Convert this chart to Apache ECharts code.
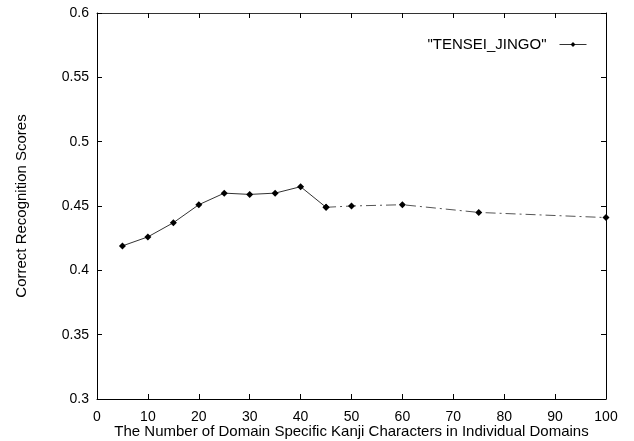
<!DOCTYPE html>
<html>
<head>
<meta charset="utf-8">
<script src="https://cdn.jsdelivr.net/npm/echarts@6/dist/echarts.min.js"></script>
<style>
  html, body { margin: 0; padding: 0; background: #fff; }
  #chart { width: 634px; height: 441px; }
</style>
</head>
<body>
<div id="chart"></div>
<script>
// domain specific kanji count vs score
var kanjiCount = [5, 10, 15, 20, 25, 30, 35, 40, 45, 50, 60, 75, 100];
var scores = [0.419, 0.426, 0.437, 0.451, 0.460, 0.459, 0.460, 0.465, 0.449, 0.450, 0.451, 0.445, 0.441];
var seriesName = '"TENSEI_JINGO"';
// the scan shows the line fading to a broken stroke after x = 45
var splitAt = 8;

var chart = echarts.init(document.getElementById('chart'));

var pts = [];
for (var i = 0; i < kanjiCount.length; i++) {
    pts.push([kanjiCount[i], scores[i]]);
}
var solidPart = pts.slice(0, splitAt + 1);
var fadedPart = pts.slice(splitAt);

var font = 'Liberation Sans, Arial, sans-serif';
var tickStyle = { inside: true, length: 5, lineStyle: { color: '#000', width: 1 } };

var option = {
    animation: false,
    backgroundColor: '#fff',
    grid: { left: 97, right: 28, top: 13, bottom: 42, show: false, containLabel: false, outerBoundsMode: 'none' },
    legend: {
        data: [seriesName],
        right: 42,
        top: 32,
        align: 'right',
        itemWidth: 27,
        itemHeight: 6,
        itemGap: 6,
        lineStyle: { width: 1 },
        textStyle: { fontFamily: font, fontSize: 15, color: '#000', padding: [0, 8, 0, 0] }
    },
    xAxis: [{
        type: 'value',
        min: 0, max: 100, interval: 10,
        name: 'The Number of Domain Specific Kanji Characters in Individual Domains',
        nameLocation: 'middle',
        nameGap: 25,
        nameMoveOverlap: false,
        nameTextStyle: { fontFamily: font, fontSize: 15, color: '#000' },
        axisLine: { show: true, onZero: false, lineStyle: { color: '#000', width: 1 } },
        axisTick: tickStyle,
        axisLabel: { fontFamily: font, fontSize: 14, color: '#000', margin: 11 },
        splitLine: { show: false }
    }, {
        type: 'value',
        position: 'top',
        min: 0, max: 100, interval: 10,
        axisLine: { show: true, onZero: false, lineStyle: { color: '#333', width: 1 } },
        axisTick: tickStyle,
        axisLabel: { show: false },
        splitLine: { show: false }
    }],
    yAxis: [{
        type: 'value',
        min: 0.3, max: 0.6, interval: 0.05,
        name: 'Correct Recognition Scores',
        nameLocation: 'middle',
        nameGap: 68,
        nameMoveOverlap: false,
        nameTextStyle: { fontFamily: font, fontSize: 15, color: '#000' },
        axisLine: { show: true, onZero: false, lineStyle: { color: '#000', width: 1 } },
        axisTick: tickStyle,
        axisLabel: { fontFamily: font, fontSize: 14, color: '#000', margin: 8 },
        splitLine: { show: false }
    }, {
        type: 'value',
        position: 'right',
        min: 0.3, max: 0.6, interval: 0.05,
        axisLine: { show: true, onZero: false, lineStyle: { color: '#000', width: 1 } },
        axisTick: tickStyle,
        axisLabel: { show: false },
        splitLine: { show: false }
    }],
    series: [{
        name: seriesName,
        type: 'line',
        data: solidPart,
        symbol: 'diamond',
        symbolSize: 7,
        itemStyle: { color: '#000' },
        lineStyle: { color: '#333', width: 1 }
    }, {
        name: 'faded',
        type: 'line',
        data: fadedPart,
        symbol: 'diamond',
        symbolSize: 7,
        itemStyle: { color: '#000' },
        lineStyle: { color: '#555', width: 1, type: [10, 4, 2, 4] }
    }]
};

chart.setOption(option);
</script>
</body>
</html>
